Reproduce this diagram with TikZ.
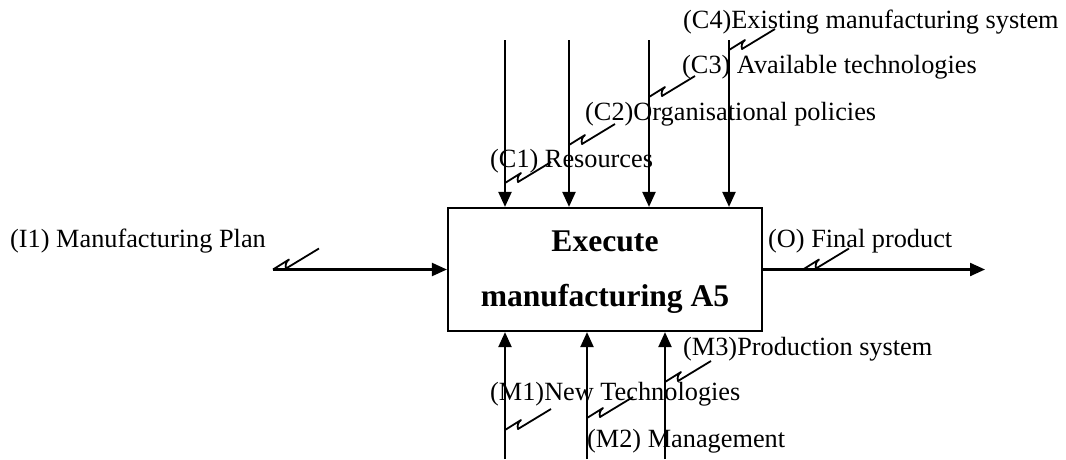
\documentclass[tikz,border=0pt]{standalone}
\usepackage{fontspec}
\setmainfont{Liberation Serif}
\usetikzlibrary{arrows.meta,calc}
\begin{document}
\begin{tikzpicture}[x=1pt,y=-1pt,
  arr/.style={line width=2.2pt,-{Triangle[width=13pt,length=15pt]}},
  sq/.style={line width=1.8pt,line join=round},
  lbl/.style={anchor=base west,inner sep=0pt,font=\fontsize{26.3}{30}\selectfont},
  ttl/.style={anchor=base,inner sep=0pt,font=\fontsize{31.6}{36}\selectfont\bfseries},
  boxst/.style={draw,line width=2.2pt,minimum width=314pt,minimum height=123pt,inner sep=0pt}]
\useasboundingbox (0,0) rectangle (1066,459);
\node[boxst] (box) at (605,269.5) {};
\node[ttl] (t1) at (605,251) {Execute};
\node[ttl] (t2) at (605,306) {manufacturing A5};
% control arrows
\foreach \n/\x in {c1/505,c2/569,c3/649,c4/729}{
  \coordinate (\n s) at (\x,40);
  \draw[arr] (\n s) -- (\n s |- box.north);
}
% mechanism arrows
\foreach \n/\x in {m1/505,m2/587,m3/665}{
  \coordinate (\n s) at (\x,459);
  \draw[arr] (\n s) -- (\n s |- box.south);
}
% input/output
\coordinate (is) at (273,269.5);
\draw[arr] (is) -- (box.west);
\coordinate (oe) at (985,269.5);
\draw[arr] (box.east) -- (oe);
% squiggle anchor points
\coordinate (qc1) at (505,183);
\coordinate (qc2) at (569,145);
\coordinate (qc3) at (649,97);
\coordinate (qc4) at (729,50);
\coordinate (qi) at (273,269.5);
\coordinate (qo) at (803,269.5);
\coordinate (qm1) at (505,430);
\coordinate (qm2) at (587,418);
\coordinate (qm3) at (665,382);
\foreach \q in {qc1,qc2,qc3,qc4,qi,qo,qm1,qm2,qm3}{
  \draw[sq] (\q) -- ++(16,-10) .. controls ++(-3,2) and ++(-1,-3) .. ++(-3,9) -- ++(33,-20);
}
% labels
\node[lbl] (lc1) at (490,167) {(C1) Resources};
\node[lbl] (lc2) at (585,120) {(C2)Organisational policies};
\node[lbl] (lc3) at (682,73) {(C3) Available technologies};
\node[lbl] (lc4) at (683,28) {(C4)Existing manufacturing system};
\node[lbl] (li) at (10,247) {(I1) Manufacturing Plan};
\node[lbl] (lo) at (768,247) {(O) Final product};
\node[lbl] (lm1) at (490,400) {(M1)New Technologies};
\node[lbl] (lm2) at (587,447) {(M2) Management};
\node[lbl] (lm3) at (683,355) {(M3)Production system};
\end{tikzpicture}
\end{document}
